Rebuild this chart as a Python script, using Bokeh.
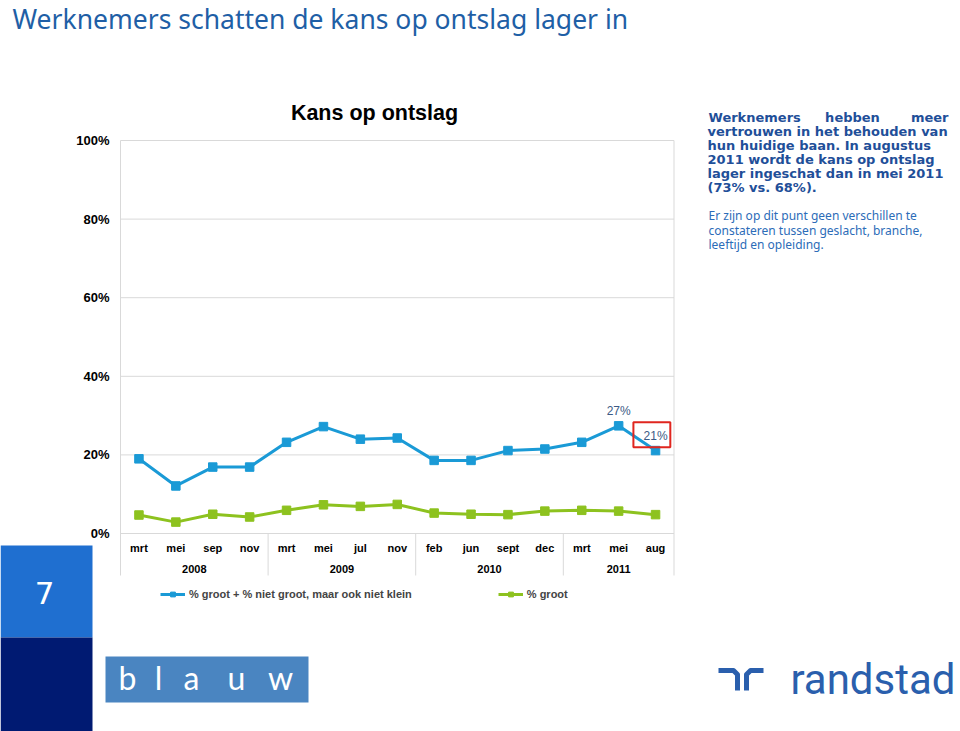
from bokeh.plotting import figure
from bokeh.models import Range1d, Legend, LegendItem, ColumnDataSource
from bokeh.core.properties import value
from bokeh.embed import file_html
from bokeh.resources import INLINE

# ---------------- data ----------------
years = ["2008", "2009", "2010", "2011"]
months = [["mrt", "mei", "sep", "nov"],
          ["mrt", "mei", "jul", "nov"],
          ["feb", "jun", "sept", "dec"],
          ["mrt", "mei", "aug"]]
blue_vals = [19.0, 12.1, 16.9, 16.9, 23.2, 27.2, 24.0, 24.3, 18.6, 18.6, 21.1, 21.5, 23.2, 27.4, 21.1]
green_vals = [4.7, 2.9, 4.9, 4.2, 5.9, 7.3, 6.9, 7.4, 5.2, 4.9, 4.8, 5.7, 5.9, 5.7, 4.8]
series_names = ["% groot + % niet groot, maar ook niet klein", "% groot"]
labelled_points = [13, 14]
y_ticks = [0, 20, 40, 60, 80, 100]
y_tick_labels = ["0%", "20%", "40%", "60%", "80%", "100%"]

page_title = "Werknemers schatten de kans op ontslag lager in"
chart_title = "Kans op ontslag"
first_line_words = ["Werknemers", "hebben", "meer"]
bold_lines = ["vertrouwen in het behouden van", "hun huidige baan. In augustus",
              "2011 wordt de kans op ontslag", "lager ingeschat dan in mei 2011",
              "(73% vs. 68%)."]
regular_lines = ["Er zijn op dit punt geen verschillen te",
                 "constateren tussen geslacht, branche,",
                 "leeftijd en opleiding."]
page_number = "7"
logo_left = "blauw"
logo_right = "randstad"

month_labels = [m for ms in months for m in ms]
idx = list(range(len(month_labels)))
n = len(idx)
group_starts = []
s = 0
for ms in months:
    group_starts.append(s)
    s += len(ms)
year_centers = [g + (len(ms) - 1) / 2 for g, ms in zip(group_starts, months)]
boundaries = [g - 0.5 for g in group_starts] + [n - 0.5]

# ---------------- layout ----------------
W, H = 960, 731
PX0, PX1 = 120.0, 673.5      # plot area left/right (px)
PY0, PY100 = 533.0, 140.0    # y pixel of 0% and 100%
ux = (PX1 - PX0) / n
uy = (PY0 - PY100) / 100.0
cx_start = -0.5 - PX0 / ux
cy_start = -(H - PY0) / uy

BLUE = "#1A9AD6"
GREEN = "#8DC21F"
GRID = "#D9D9D9"

p = figure(width=W, height=H, x_range=Range1d(0, W), y_range=Range1d(H, 0),
           output_backend="svg", toolbar_location=None, min_border=0)
p.extra_x_ranges = {"cx": Range1d(cx_start, cx_start + W / ux)}
p.extra_y_ranges = {"cy": Range1d(cy_start, cy_start + H / uy)}
p.axis.visible = False
p.grid.visible = False
p.outline_line_color = None
p.background_fill_color = "white"
p.border_fill_color = "white"

C = dict(x_range_name="cx", y_range_name="cy")


def ptext(xs, ys, texts, size, color, font, style="normal", align="left",
          baseline="middle", **kw):
    return p.text(x=xs, y=ys, text=texts, text_font=value(font), text_font_size=size,
                  text_font_style=style, text_color=color, text_align=align,
                  text_baseline=baseline, **kw)


# ---------------- chart ----------------
lo = -42 / uy  # bottom of category label area
p.segment(x0=[-0.5] * len(y_ticks), x1=[n - 0.5] * len(y_ticks), y0=y_ticks, y1=y_ticks,
          line_color=GRID, line_width=1, **C)
p.segment(x0=[-0.5, n - 0.5], x1=[-0.5, n - 0.5], y0=[y_ticks[-1]] * 2, y1=[lo] * 2,
          line_color=GRID, line_width=1, **C)
p.segment(x0=boundaries[1:-1], x1=boundaries[1:-1], y0=[0] * (len(boundaries) - 2),
          y1=[lo] * (len(boundaries) - 2), line_color=GRID, line_width=1, **C)

ptext([-0.5] * len(y_ticks), y_ticks, y_tick_labels, "13px", "black", "Liberation Sans",
      style="bold", align="right", x_offset=-11, **C)
ptext(idx, [0] * n, month_labels, "11px", "black", "Liberation Sans", style="bold",
      align="center", y_offset=14, **C)
ptext(year_centers, [0] * len(years), years, "11px", "black", "Liberation Sans",
      style="bold", align="center", y_offset=35, **C)

src = ColumnDataSource(data=dict(x=idx, blue=blue_vals, green=green_vals))
lb = p.line("x", "blue", source=src, line_color=BLUE, line_width=3, **C)
sb = p.scatter("x", "blue", source=src, marker="square", size=8.5, color=BLUE, **C)
lg = p.line("x", "green", source=src, line_color=GREEN, line_width=3, **C)
sg = p.scatter("x", "green", source=src, marker="square", size=8.5, color=GREEN, **C)

ptext([idx[i] for i in labelled_points], [blue_vals[i] for i in labelled_points],
      [f"{round(blue_vals[i])}%" for i in labelled_points], "12px", "#3B5A85",
      "Liberation Sans", align="center", y_offset=-15, **C)
p.rect(x=[idx[-1] - 0.1], y=[blue_vals[-1] + 4.0], width=1.0, height=25 / uy,
       fill_color=None, line_color="#E0261F", line_width=2, **C)

legend = Legend(items=[LegendItem(label=series_names[0], renderers=[lb, sb]),
                       LegendItem(label=series_names[1], renderers=[lg, sg])],
                orientation="horizontal", location=(160, H - 600), spacing=86,
                glyph_width=25, glyph_height=12, label_standoff=4, padding=0, margin=0,
                border_line_color=None, background_fill_alpha=0,
                label_text_font="Liberation Sans", label_text_font_style="bold",
                label_text_font_size="11px", label_height=12)
p.add_layout(legend)

# ---------------- page decorations (pixel coordinates) ----------------
ptext([12], [18], [page_title], "26.5px", "#1F5FA6", "Noto Sans")
ptext([374], [112], [chart_title], "21.5px", "black", "Liberation Sans", style="bold",
      align="center")

BOLD_C = "#1F4F99"
REG_C = "#2C6CB8"
BF = "13px"
ptext([708], [117], [first_line_words[0]], BF, BOLD_C, "DejaVu Sans", style="bold")
ptext([852], [117], [first_line_words[1]], BF, BOLD_C, "DejaVu Sans", style="bold",
      align="center")
ptext([948], [117], [first_line_words[2]], BF, BOLD_C, "DejaVu Sans", style="bold",
      align="right")
ptext([707] * len(bold_lines), [131 + 14 * i for i in range(len(bold_lines))], bold_lines,
      BF, BOLD_C, "DejaVu Sans", style="bold")
ptext([708] * len(regular_lines), [215 + 14.5 * i for i in range(len(regular_lines))],
      regular_lines, "12px", REG_C, "Noto Sans")

# page number panel
p.quad(left=[0, 0], right=[92, 92], top=[545, 637], bottom=[637, H],
       fill_color=["#1F6FD0", "#001A72"], line_color=None)
ptext([44], [592], [page_number], "31px", "white", "DejaVu Sans", align="center")

# blauw logo
p.quad(left=[105], right=[308], top=[656], bottom=[702], fill_color="#4A85C1", line_color=None)
ptext([127, 158, 191, 236, 280], [677] * 5, list(logo_left), "32px", "white", "Lato",
      align="center")

# randstad logo
RC = "#2A5FAD"
p.multi_line(xs=[[718, 733, 737, 737], [746, 746, 750, 763]],
             ys=[[670, 670, 674, 690], [690, 674, 670, 670]],
             line_color=RC, line_width=5, line_join="round")
ptext([955], [679], [logo_right], "42px", RC, "Roboto", align="right")

open("out.html", "w").write(file_html(p, INLINE))
